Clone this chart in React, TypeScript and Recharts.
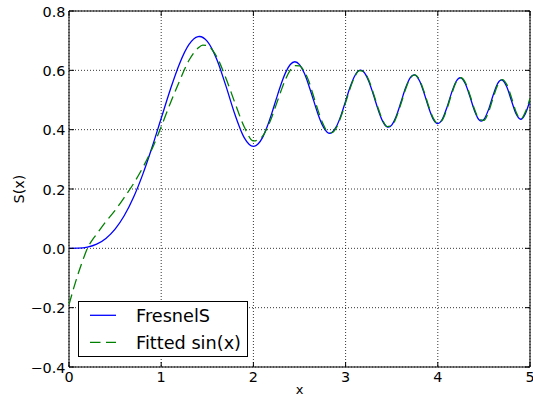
import React from 'react';
import { LineChart, Line, XAxis, YAxis, CartesianGrid, ReferenceArea, Legend } from 'recharts';

// ---- data ----
const fresnelX = [
  0, 0.1, 0.2, 0.3, 0.4, 0.5, 0.6, 0.7, 0.8, 0.9, 1.0, 1.1, 1.2, 1.3, 1.4, 1.4142, 1.5, 1.6, 1.7, 1.8, 1.9,
  2.0, 2.05, 2.1, 2.15, 2.2, 2.25, 2.3, 2.35, 2.4, 2.4495, 2.5, 2.55, 2.6, 2.65, 2.7, 2.75, 2.8, 2.8284, 2.85, 2.9, 2.95,
  3.0, 3.05, 3.1, 3.15, 3.1623, 3.2, 3.25, 3.3, 3.35, 3.4, 3.45, 3.4641, 3.5, 3.55, 3.6, 3.65, 3.7, 3.7417, 3.75, 3.8, 3.85, 3.9, 3.95,
  4.0, 4.05, 4.1, 4.15, 4.2, 4.2426, 4.25, 4.3, 4.35, 4.4, 4.45, 4.4721, 4.5, 4.55, 4.6, 4.65, 4.6904, 4.7, 4.75, 4.8, 4.85, 4.899, 4.95, 5.0,
];
const fresnelS = [
  0, 0.000524, 0.004188, 0.014117, 0.033359, 0.064732, 0.11054, 0.172136, 0.249341, 0.339776, 0.438259, 0.536497, 0.6234, 0.686333, 0.713525, 0.713972, 0.697505, 0.638888, 0.549196, 0.450938, 0.373248,
  0.343416, 0.3517, 0.374185, 0.4106, 0.455704, 0.5054, 0.553168, 0.5931, 0.619669, 0.6289, 0.619182, 0.5915, 0.549989, 0.5011, 0.452917, 0.414, 0.391528, 0.388, 0.3901, 0.410141, 0.4481,
  0.496313, 0.5445, 0.581816, 0.5996, 0.6004, 0.593378, 0.5642, 0.519325, 0.47, 0.42972, 0.4094, 0.4083, 0.415248, 0.4459, 0.492309, 0.5404, 0.574979, 0.5849, 0.5845, 0.56555, 0.5244, 0.4751, 0.4357,
  0.420516, 0.4358, 0.475798, 0.5249, 0.563219, 0.575, 0.5746, 0.553996, 0.5101, 0.462268, 0.4323, 0.4289, 0.434273, 0.4676, 0.516192, 0.5562, 0.5678, 0.567145, 0.5432, 0.49675, 0.4526, 0.4351, 0.4541, 0.499191,
];

const fittedX = [
  0, 0.05, 0.1, 0.15, 0.2, 0.25, 0.3, 0.4, 0.5, 0.6, 0.7, 0.8, 0.9, 1.0, 1.1, 1.2, 1.3, 1.4, 1.45, 1.5, 1.6, 1.7, 1.8, 1.9,
  2.0, 2.05, 2.1, 2.15, 2.2, 2.25, 2.3, 2.35, 2.4, 2.45, 2.5, 2.55, 2.6, 2.65, 2.7, 2.75, 2.8, 2.85, 2.9, 2.95,
  3.0, 3.05, 3.1, 3.15, 3.2, 3.25, 3.3, 3.35, 3.4, 3.45, 3.5, 3.55, 3.6, 3.65, 3.7, 3.75, 3.8, 3.85, 3.9, 3.95,
  4.0, 4.05, 4.1, 4.15, 4.2, 4.25, 4.3, 4.35, 4.4, 4.45, 4.5, 4.55, 4.6, 4.65, 4.7, 4.75, 4.8, 4.85, 4.9, 4.95, 5.0,
];
const fittedSin = [
  -0.19, -0.135, -0.085, -0.04, 0.0, 0.027, 0.048, 0.09, 0.128, 0.172, 0.218, 0.272, 0.335, 0.41, 0.49, 0.565, 0.633, 0.675, 0.685, 0.683, 0.647, 0.575, 0.49, 0.41,
  0.362, 0.366, 0.378, 0.406, 0.443, 0.487, 0.531, 0.571, 0.601, 0.616, 0.615, 0.597, 0.564, 0.515, 0.466, 0.423, 0.395, 0.39, 0.407, 0.444,
  0.491, 0.54, 0.579, 0.599, 0.595, 0.568, 0.524, 0.475, 0.433, 0.41, 0.413, 0.442, 0.487, 0.536, 0.573, 0.585, 0.569, 0.529, 0.48, 0.439,
  0.421, 0.433, 0.471, 0.52, 0.561, 0.575, 0.558, 0.515, 0.467, 0.435, 0.431, 0.459, 0.507, 0.551, 0.569, 0.551, 0.507, 0.459, 0.435, 0.46, 0.505,
];

const xTicks = [0, 1, 2, 3, 4, 5];
const yTicks = [-0.4, -0.2, 0.0, 0.2, 0.4, 0.6, 0.8];
const seriesNames = ['FresnelS', 'Fitted sin(x)'];
const xLabel = 'x';
const yLabel = 'S(x)';

const fresnelData = fresnelX.map((x, i) => ({ x, y: fresnelS[i] }));
const fittedData = fittedX.map((x, i) => ({ x, y: fittedSin[i] }));

// ---- layout ----
const W = 533;
const H = 396;
const M = { top: 11, right: 3, bottom: 0, left: 0 };
const Y_AXIS_W = 69;
const X_AXIS_H = 29;
const PLOT_W = W - M.left - M.right - Y_AXIS_W;
const PLOT_H = H - M.top - M.bottom - X_AXIS_H;
const FONT = 'DejaVu Sans, sans-serif';
const TICK_LEN = 5;
const GREEN_DASH = '10.5 5.5';

const fmtY = (v: number) => (v < 0 ? '\u2212' + Math.abs(v).toFixed(1) : v.toFixed(1));

const XTick = (props: any) => {
  const { x, y, payload } = props;
  return (
    <g>
      <line x1={x} y1={y} x2={x} y2={y - TICK_LEN} stroke="#000" strokeWidth={1} />
      <line x1={x} y1={y - PLOT_H} x2={x} y2={y - PLOT_H + TICK_LEN} stroke="#000" strokeWidth={1} />
      <text x={x} y={y + 15} textAnchor="middle" fontSize={14.4} fontFamily={FONT} fill="#000">
        {String(payload.value)}
      </text>
    </g>
  );
};

const YTick = (props: any) => {
  const { x, y, payload } = props;
  return (
    <g>
      <line x1={x} y1={y} x2={x + TICK_LEN} y2={y} stroke="#000" strokeWidth={1} />
      <line x1={x + PLOT_W} y1={y} x2={x + PLOT_W - TICK_LEN} y2={y} stroke="#000" strokeWidth={1} />
      <text x={x - 3.5} y={y + 5.8} textAnchor="end" fontSize={14.4} fontFamily={FONT} fill="#000">
        {fmtY(payload.value)}
      </text>
    </g>
  );
};

const renderYLabel = (props: any) => {
  const vb = props.viewBox || { x: 0, y: M.top, width: Y_AXIS_W, height: PLOT_H };
  const cy = vb.y + vb.height / 2;
  const cx = 23.5;
  return (
    <text x={cx} y={cy} transform={`rotate(-90, ${cx}, ${cy})`} textAnchor="middle" fontSize={14.4} fontFamily={FONT} fill="#000">
      {yLabel}
    </text>
  );
};

const renderXLabel = (props: any) => {
  const vb = props.viewBox || { x: Y_AXIS_W, y: H - X_AXIS_H, width: PLOT_W, height: X_AXIS_H };
  return (
    <text x={vb.x + vb.width / 2} y={394} textAnchor="middle" fontSize={13} fontFamily={FONT} fill="#000">
      {xLabel}
    </text>
  );
};

const legendStyles = [
  { color: '#0000ff', dash: undefined as string | undefined },
  { color: '#008000', dash: GREEN_DASH },
];

const renderLegend = () => (
  <div style={{ width: 170, height: 56, boxSizing: 'border-box', border: '1px solid #000', background: '#fff' }}>
    <svg width={168} height={54} style={{ display: 'block' }}>
      {seriesNames.map((name, i) => {
        const cy = 13.3 + i * 27;
        return (
          <g key={name}>
            <line x1={11} x2={37} y1={cy} y2={cy} stroke={legendStyles[i].color} strokeWidth={1.3} strokeDasharray={legendStyles[i].dash} />
            <text x={57} y={cy + 6.4} fontSize={17.7} fontFamily={FONT} fill="#000">{name}</text>
          </g>
        );
      })}
    </svg>
  </div>
);

export default function App() {
  return (
    <div style={{ position: 'absolute', left: 0, top: 0, width: W, height: H, background: '#fff' }}>
      <LineChart width={W} height={H} margin={M}>
        <CartesianGrid stroke="#000" strokeWidth={0.8} strokeDasharray="1 2" />
        <XAxis
          type="number"
          dataKey="x"
          domain={[0, 5]}
          ticks={xTicks}
          interval={0}
          allowDataOverflow
          height={X_AXIS_H}
          tickSize={0}
          tickMargin={0}
          axisLine={false}
          tickLine={false}
          tick={<XTick />}
          label={renderXLabel}
        />
        <YAxis
          type="number"
          domain={[-0.4, 0.8]}
          ticks={yTicks}
          interval={0}
          allowDataOverflow
          width={Y_AXIS_W}
          tickSize={0}
          tickMargin={0}
          axisLine={false}
          tickLine={false}
          tick={<YTick />}
          label={renderYLabel}
        />
        <Line
          data={fresnelData}
          dataKey="y"
          name={seriesNames[0]}
          type="monotone"
          stroke="#0000ff"
          strokeWidth={1.3}
          dot={false}
          activeDot={false}
          isAnimationActive={false}
        />
        <Line
          data={fittedData}
          dataKey="y"
          name={seriesNames[1]}
          type="monotone"
          stroke="#008000"
          strokeWidth={1.3}
          strokeDasharray={GREEN_DASH}
          dot={false}
          activeDot={false}
          isAnimationActive={false}
        />
        <ReferenceArea x1={0} x2={5} y1={-0.4} y2={0.8} fill="none" stroke="#000" strokeWidth={1} fillOpacity={0} />
        <Legend
          layout="vertical"
          align="center"
          verticalAlign="middle"
          content={renderLegend}
          wrapperStyle={{ position: 'absolute', left: 78, top: 301, width: 170, height: 56 }}
        />
      </LineChart>
    </div>
  );
}
